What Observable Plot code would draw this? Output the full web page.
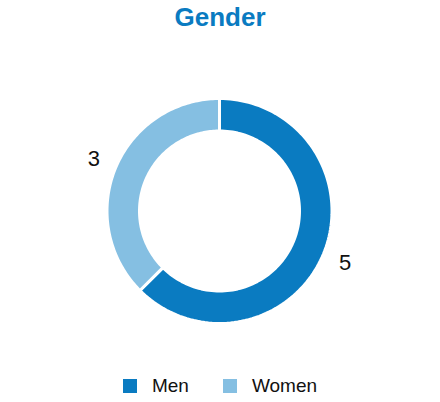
<!DOCTYPE html>
<html>
<head>
<meta charset="utf-8">
<script src="https://cdn.jsdelivr.net/npm/d3@7"></script>
<script src="https://cdn.jsdelivr.net/npm/@observablehq/plot@0.6"></script>
<style>
  html, body { margin: 0; padding: 0; background: #fff; }
  body { width: 440px; height: 402px; position: relative; overflow: hidden;
         font-family: "Liberation Sans", Arial, Helvetica, sans-serif; }
  #title { position: absolute; left: 0; top: 0; width: 440px; text-align: center;
           font-size: 26px; font-weight: bold; color: #0a7bc1; line-height: 34px; }
  #chart { position: absolute; left: 0; top: 40px; }
  #legend { position: absolute; left: 0; top: 375px; width: 440px; display: flex;
            justify-content: center; align-items: center; font-size: 19px; color: #111; }
  .sw { display: inline-flex; align-items: center; }
  .sw span.box { display: inline-block; width: 14px; height: 14px; margin-right: 15px; }
  .sw + .sw { margin-left: 34px; }
</style>
</head>
<body>
<div id="title">Gender</div>
<div id="chart"></div>
<div id="legend"></div>
<script>
const categories = ["Men", "Women"];
const values = [5, 3];
const colors = ["#0a7bc1", "#85bfe2"];

const outerR = 112.5, innerR = 80, labelR = 136;
const W = 440, H = 330;
const cx = 219, cy = 170.5;

const pie = d3.pie().sort(null).value(d => d.value);
const slices = pie(categories.map((c, i) => ({category: c, value: values[i]})));

const pts = [];
for (const s of slices) {
  const n = 120;
  for (let k = 0; k <= n; k++) {
    const a = s.startAngle + (s.endAngle - s.startAngle) * k / n;
    pts.push({category: s.data.category, x: outerR * Math.sin(a), y: outerR * Math.cos(a)});
  }
  for (let k = n; k >= 0; k--) {
    const a = s.startAngle + (s.endAngle - s.startAngle) * k / n;
    pts.push({category: s.data.category, x: innerR * Math.sin(a), y: innerR * Math.cos(a)});
  }
}
const labels = slices.map(s => {
  const a = (s.startAngle + s.endAngle) / 2;
  return {text: String(s.data.value), x: labelR * Math.sin(a), y: labelR * Math.cos(a)};
});

const plot = Plot.plot({
  width: W, height: H,
  margin: 0,
  x: {domain: [-cx, W - cx], axis: null},
  y: {domain: [-(H - cy), cy], axis: null},
  color: {domain: categories, range: colors},
  marks: [
    Plot.line(pts, {x: "x", y: "y", z: "category", fill: "category", stroke: "white",
                    strokeWidth: 3, curve: "linear-closed"}),
    Plot.text(labels, {x: "x", y: "y", text: "text", fontSize: 22, fill: "#111",
                       fontFamily: "Liberation Sans, Arial, sans-serif"})
  ]
});
document.getElementById("chart").appendChild(plot);

const leg = document.getElementById("legend");
categories.forEach((c, i) => {
  const el = document.createElement("span");
  el.className = "sw";
  el.innerHTML = `<span class="box" style="background:${colors[i]}"></span><span>${c}</span>`;
  leg.appendChild(el);
});
</script>
</body>
</html>
